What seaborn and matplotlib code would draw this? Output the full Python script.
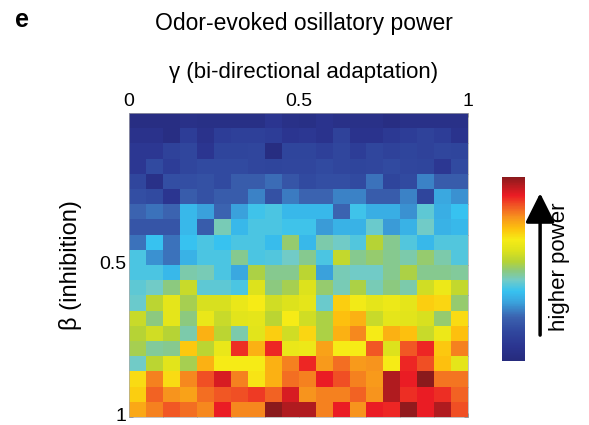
#Load the libraries
import numpy as np
import matplotlib
matplotlib.use("Agg")
import matplotlib.pyplot as plt
from matplotlib.colors import LinearSegmentedColormap
import seaborn as sns

#Odor-evoked oscillatory power, rows = beta (0 -> 1), columns = gamma (0 -> 1)
power = [
    [0.03, 0.03, 0.03, 0.05, 0.04, 0.04, 0.04, 0.04, 0.08, 0.05, 0.04, 0.07, 0.05, 0.05, 0.05, 0.03, 0.05, 0.05, 0.05, 0.05],
    [0.06, 0.06, 0.03, 0.12, 0.06, 0.12, 0.13, 0.13, 0.12, 0.08, 0.09, 0.07, 0.14, 0.07, 0.07, 0.10, 0.12, 0.14, 0.12, 0.07],
    [0.09, 0.09, 0.14, 0.16, 0.08, 0.15, 0.15, 0.16, 0.02, 0.15, 0.15, 0.13, 0.16, 0.12, 0.16, 0.14, 0.15, 0.14, 0.16, 0.15],
    [0.09, 0.17, 0.12, 0.16, 0.17, 0.17, 0.17, 0.16, 0.15, 0.16, 0.16, 0.17, 0.16, 0.15, 0.16, 0.17, 0.16, 0.15, 0.09, 0.17],
    [0.16, 0.05, 0.18, 0.18, 0.19, 0.17, 0.22, 0.22, 0.25, 0.20, 0.17, 0.18, 0.18, 0.17, 0.26, 0.15, 0.17, 0.28, 0.22, 0.22],
    [0.18, 0.17, 0.08, 0.22, 0.19, 0.22, 0.22, 0.28, 0.19, 0.27, 0.24, 0.24, 0.28, 0.28, 0.22, 0.22, 0.28, 0.15, 0.33, 0.30],
    [0.24, 0.26, 0.24, 0.36, 0.32, 0.24, 0.32, 0.39, 0.40, 0.36, 0.36, 0.36, 0.24, 0.39, 0.34, 0.34, 0.30, 0.42, 0.34, 0.38],
    [0.20, 0.20, 0.20, 0.36, 0.22, 0.45, 0.36, 0.40, 0.40, 0.39, 0.39, 0.31, 0.35, 0.35, 0.43, 0.31, 0.35, 0.44, 0.35, 0.36],
    [0.26, 0.38, 0.26, 0.38, 0.40, 0.38, 0.40, 0.40, 0.37, 0.50, 0.36, 0.46, 0.44, 0.41, 0.54, 0.48, 0.41, 0.36, 0.41, 0.41],
    [0.40, 0.30, 0.26, 0.35, 0.40, 0.40, 0.48, 0.40, 0.41, 0.44, 0.48, 0.40, 0.56, 0.48, 0.50, 0.48, 0.46, 0.50, 0.46, 0.41],
    [0.40, 0.40, 0.36, 0.46, 0.45, 0.40, 0.33, 0.53, 0.48, 0.48, 0.55, 0.32, 0.45, 0.44, 0.44, 0.48, 0.53, 0.48, 0.48, 0.47],
    [0.42, 0.44, 0.49, 0.57, 0.42, 0.42, 0.40, 0.60, 0.49, 0.52, 0.60, 0.50, 0.45, 0.53, 0.45, 0.49, 0.46, 0.58, 0.64, 0.56],
    [0.43, 0.55, 0.62, 0.52, 0.59, 0.59, 0.63, 0.66, 0.58, 0.60, 0.62, 0.43, 0.70, 0.65, 0.62, 0.64, 0.62, 0.70, 0.69, 0.50],
    [0.57, 0.49, 0.62, 0.49, 0.63, 0.57, 0.61, 0.62, 0.55, 0.66, 0.58, 0.53, 0.72, 0.74, 0.57, 0.62, 0.61, 0.59, 0.50, 0.68],
    [0.54, 0.58, 0.54, 0.46, 0.74, 0.55, 0.46, 0.61, 0.70, 0.58, 0.69, 0.53, 0.74, 0.79, 0.66, 0.74, 0.72, 0.57, 0.64, 0.72],
    [0.52, 0.47, 0.48, 0.71, 0.55, 0.63, 0.88, 0.74, 0.89, 0.63, 0.64, 0.76, 0.66, 0.66, 0.84, 0.60, 0.84, 0.89, 0.71, 0.80],
    [0.44, 0.55, 0.61, 0.52, 0.74, 0.66, 0.66, 0.66, 0.74, 0.80, 0.89, 0.77, 0.82, 0.77, 0.78, 0.66, 0.89, 0.85, 0.72, 0.62],
    [0.68, 0.80, 0.68, 0.79, 0.85, 0.92, 0.80, 0.67, 0.74, 0.82, 0.80, 0.90, 0.85, 0.80, 0.77, 0.96, 0.90, 1.00, 0.81, 0.81],
    [0.70, 0.83, 0.78, 0.76, 0.82, 0.84, 0.85, 0.87, 0.83, 0.92, 0.78, 0.80, 0.80, 0.83, 0.78, 0.96, 0.88, 0.90, 0.88, 0.83],
    [0.75, 0.80, 0.84, 0.82, 0.79, 0.90, 0.79, 0.79, 1.00, 0.96, 0.96, 0.80, 0.90, 0.78, 0.90, 0.89, 0.99, 0.90, 0.96, 0.85],
]
tick_pos = np.arange(0, 21, 2)
gamma_labels = ["0", "", "", "", "", "0.5", "", "", "", "", "1"]
beta_labels = ["", "", "", "", "", "0.5", "", "", "", "", "1"]

#Print-style jet colormap
cmap_stops = [0.0, 0.08, 0.16, 0.24, 0.32, 0.38, 0.44, 0.49, 0.54, 0.60, 0.66, 0.72, 0.78, 0.84, 0.90, 1.0]
cmap_colors = ["#262b7c", "#2b3590", "#30479e", "#3b63b0", "#3aa3dd", "#37c2f0", "#72cbc6", "#8cc97f",
               "#b5d336", "#dde21c", "#f6eb16", "#fdc10e", "#f7941d", "#f15a24", "#ec1c24", "#8a1a1c"]
cmap = LinearSegmentedColormap.from_list("printjet", list(zip(cmap_stops, cmap_colors)))

sns.set_style("white")
plt.rcParams["font.family"] = ["Liberation Sans", "DejaVu Sans"]
plt.rcParams["text.color"] = "black"
plt.rcParams["axes.labelcolor"] = "black"
plt.rcParams["xtick.labelcolor"] = "black"
plt.rcParams["ytick.labelcolor"] = "black"

fig = plt.figure(figsize=(5.89, 4.25), dpi=100)
ax = fig.add_axes([0.219, 0.019, 0.576, 0.715])
cax = fig.add_axes([0.853, 0.150, 0.039, 0.434])

sns.heatmap(np.array(power), cmap=cmap, vmin=0, vmax=1, ax=ax, cbar_ax=cax, square=False)
cax.set_yticks([])
cax.tick_params(length=0)

#Ticks every 0.1 on all sides, labels at 0, 0.5, 1
ax.set_xticks(tick_pos)
ax.set_xticklabels(gamma_labels, rotation=0, fontsize=14)
ax.set_yticks(tick_pos)
ax.set_yticklabels(beta_labels, rotation=0, fontsize=14)
ax.xaxis.tick_top()
ax.tick_params(axis="both", direction="in", length=3, width=0.6, color="#555555",
               top=True, bottom=True, left=True, right=True,
               labeltop=True, labelbottom=False, pad=2)
for s in ax.spines.values():
    s.set_visible(True)
    s.set_color("#aaaaaa")
    s.set_linewidth(0.5)

ax.set_ylabel("β (inhibition)", fontsize=17, labelpad=12)
fig.text(0.515, 0.830, "γ (bi-directional adaptation)", fontsize=16, ha="center", va="center")
fig.text(0.516, 0.945, "Odor-evoked osillatory power", fontsize=16.5, ha="center", va="center")
fig.text(0.025, 0.952, "e", fontsize=18, fontweight="bold", ha="left", va="center")

#Arrow and label next to the colour bar
ax.annotate("", xy=(0.917, 0.552), xytext=(0.917, 0.205), xycoords="figure fraction",
            arrowprops=dict(arrowstyle="-|>,head_length=1.0,head_width=0.5", color="black", lw=2.5,
                            mutation_scale=18))
fig.text(0.950, 0.372, "higher power", fontsize=16, rotation=90, ha="center", va="center")

plt.savefig("out.png", dpi=100)
